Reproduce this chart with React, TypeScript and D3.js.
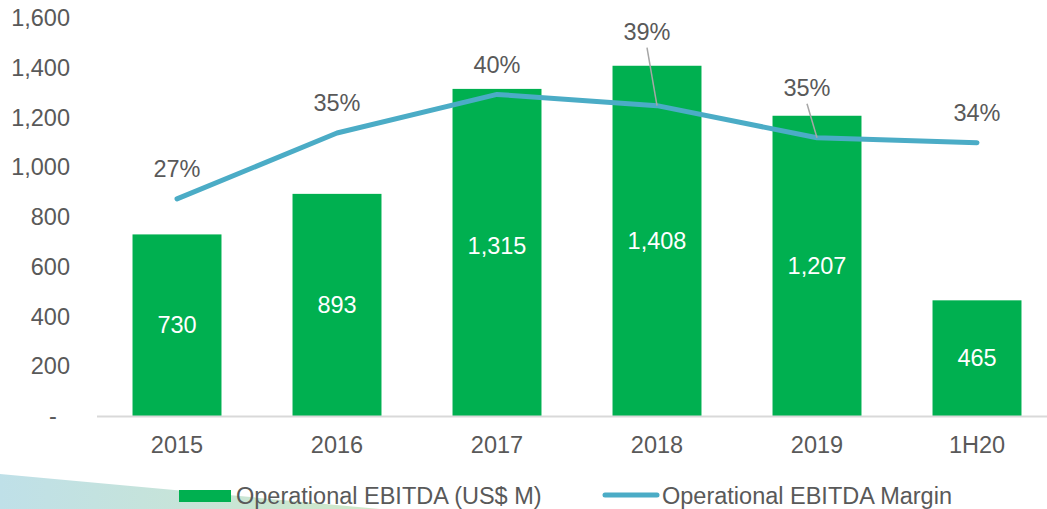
import React, { useEffect, useRef } from 'react';
import * as d3 from 'd3';

const categories = ['2015', '2016', '2017', '2018', '2019', '1H20'];
const ebitda = [730, 893, 1315, 1408, 1207, 465];
const margin = [0.27, 0.352, 0.40, 0.386, 0.346, 0.34];
const marginLabels = ['27%', '35%', '40%', '39%', '35%', '34%'];
const yTicks = [0, 200, 400, 600, 800, 1000, 1200, 1400, 1600];

const GREEN = '#00b050';
const BLUE = '#4bacc6';
const TEXT = '#595959';
const FONT = '"Liberation Sans", Arial, sans-serif';
const FS = 23.5;

function App() {
  const svgRef = useRef<SVGSVGElement>(null);

  useEffect(() => {
    const width = 1047;
    const height = 509;
    const svg = d3.select(svgRef.current);
    svg.selectAll('*').remove();
    svg.attr('width', width).attr('height', height);

    const x = d3.scaleBand().domain(categories).range([97, 1057]).paddingInner(0.444).paddingOuter(0.222);
    const y = d3.scaleLinear().domain([0, 1600]).range([416, 18]);
    const y2 = d3.scaleLinear().domain([0, 0.5]).range([416, 14]);

    // decorative wedge bottom-left
    const defs = svg.append('defs');
    const grad = defs.append('linearGradient').attr('id', 'wedge').attr('x1', '0%').attr('x2', '100%');
    grad.append('stop').attr('offset', '0%').attr('stop-color', '#bfe0e8');
    grad.append('stop').attr('offset', '100%').attr('stop-color', '#cfe8c8');
    svg.append('path')
      .attr('d', 'M0,474 L380,509 L0,509 Z')
      .attr('fill', 'url(#wedge)');

    // y tick labels
    svg.append('g')
      .selectAll('text')
      .data(yTicks)
      .enter()
      .append('text')
      .attr('x', d => (d === 0 ? 53 : 70))
      .attr('y', d => y(d))
      .attr('dy', '0.35em')
      .attr('text-anchor', d => (d === 0 ? 'middle' : 'end'))
      .attr('fill', TEXT)
      .attr('font-family', FONT)
      .attr('font-size', FS)
      .text(d => (d === 0 ? '-' : d3.format(',')(d)));

    // bars
    svg.append('g')
      .selectAll('rect')
      .data(ebitda)
      .enter()
      .append('rect')
      .attr('x', (d, i) => x(categories[i])!)
      .attr('y', d => y(d))
      .attr('width', x.bandwidth())
      .attr('height', d => y(0) - y(d))
      .attr('fill', GREEN);

    // baseline
    svg.append('line')
      .attr('x1', 97).attr('x2', width)
      .attr('y1', y(0) + 0.5).attr('y2', y(0) + 0.5)
      .attr('stroke', '#d9d9d9').attr('stroke-width', 2);

    // x labels
    svg.append('g')
      .selectAll('text')
      .data(categories)
      .enter()
      .append('text')
      .attr('x', d => x(d)! + x.bandwidth() / 2)
      .attr('y', 445)
      .attr('dy', '0.35em')
      .attr('text-anchor', 'middle')
      .attr('fill', TEXT)
      .attr('font-family', FONT)
      .attr('font-size', FS)
      .text(d => d);

    // bar value labels
    const nudge = [0, 0, -7, 0, 0, 0];
    svg.append('g')
      .selectAll('text')
      .data(ebitda)
      .enter()
      .append('text')
      .attr('x', (d, i) => x(categories[i])! + x.bandwidth() / 2)
      .attr('y', (d, i) => (y(d) + y(0)) / 2 + nudge[i])
      .attr('dy', '0.35em')
      .attr('text-anchor', 'middle')
      .attr('fill', '#fff')
      .attr('font-family', FONT)
      .attr('font-size', FS)
      .text(d => d3.format(',')(d));

    // margin line
    const line = d3.line<number>()
      .x((d, i) => x(categories[i])! + x.bandwidth() / 2)
      .y(d => y2(d));
    svg.append('path')
      .datum(margin)
      .attr('d', line)
      .attr('fill', 'none')
      .attr('stroke', BLUE)
      .attr('stroke-width', 5)
      .attr('stroke-linecap', 'round')
      .attr('stroke-linejoin', 'round');

    // margin labels (two are lifted with leader lines)
    const lift = [0, 0, 0, 44, 20, 0];
    const shift = [0, 0, 0, -10, -10, 0];
    const lbl = svg.append('g');
    margin.forEach((m, i) => {
      const px = x(categories[i])! + x.bandwidth() / 2;
      const py = y2(m);
      const lx = px + shift[i];
      const ly = py - 30 - lift[i];
      if (lift[i] > 0) {
        lbl.append('line')
          .attr('x1', lx).attr('y1', ly + 16)
          .attr('x2', px).attr('y2', py)
          .attr('stroke', '#a6a6a6').attr('stroke-width', 1.5);
      }
      lbl.append('text')
        .attr('x', lx)
        .attr('y', ly)
        .attr('dy', '0.35em')
        .attr('text-anchor', 'middle')
        .attr('fill', TEXT)
        .attr('font-family', FONT)
        .attr('font-size', FS)
        .text(marginLabels[i]);
    });

    // legend
    const lg = svg.append('g');
    lg.append('rect').attr('x', 179).attr('y', 490).attr('width', 52).attr('height', 12).attr('fill', GREEN);
    lg.append('text')
      .attr('x', 236).attr('y', 496).attr('dy', '0.35em')
      .attr('fill', TEXT).attr('font-family', FONT).attr('font-size', FS)
      .text('Operational EBITDA (US$ M)');
    lg.append('line')
      .attr('x1', 605).attr('x2', 657).attr('y1', 495).attr('y2', 495)
      .attr('stroke', BLUE).attr('stroke-width', 5).attr('stroke-linecap', 'round');
    lg.append('text')
      .attr('x', 662).attr('y', 496).attr('dy', '0.35em')
      .attr('fill', TEXT).attr('font-family', FONT).attr('font-size', FS)
      .text('Operational EBITDA Margin');
  }, []);

  return (
    <div style={{ position: 'absolute', left: 0, top: 0, background: '#fff' }}>
      <svg ref={svgRef} style={{ display: 'block' }}></svg>
    </div>
  );
}

export default App;
